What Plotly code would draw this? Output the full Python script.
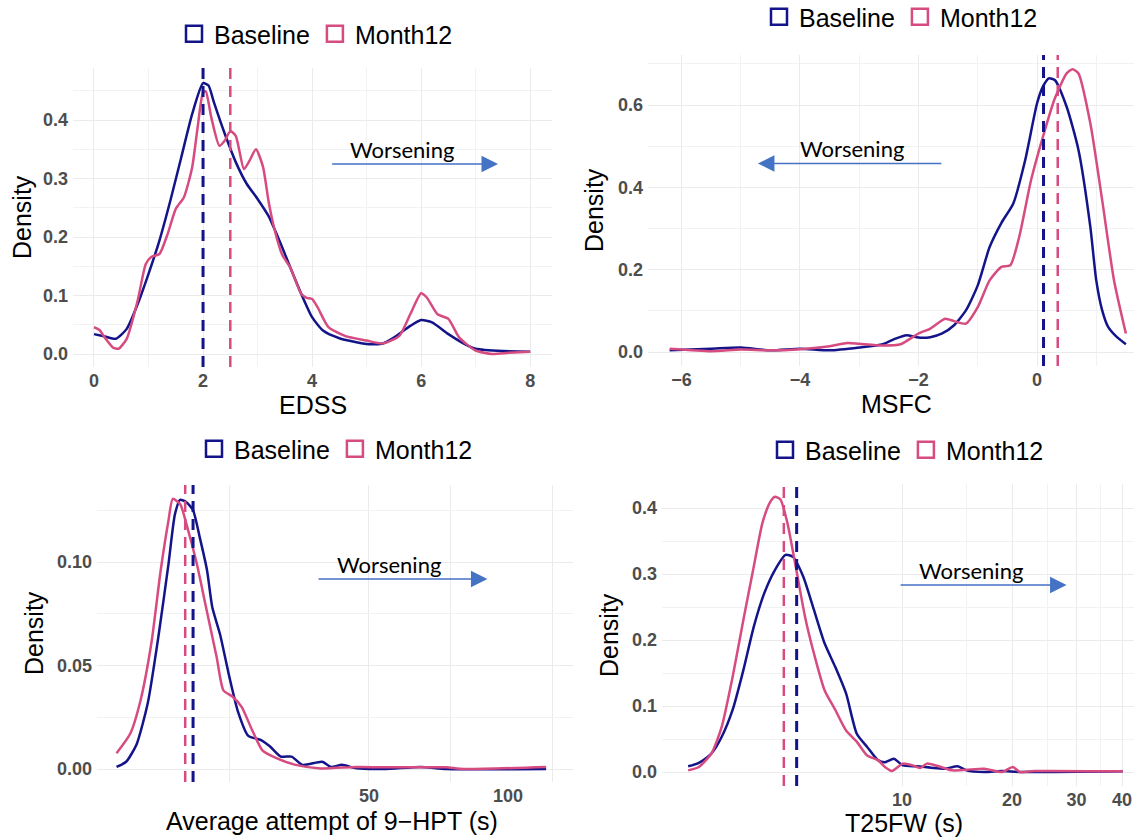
import numpy as np
import plotly.graph_objects as go

W, H = 1134, 838
NAVY = "#14148A"
PINK = "#D64B80"
ARROW = "#4472C4"
GRID = "#EBEBEB"
GRID_MINOR = "#F2F2F2"
FONT = "Liberation Sans, Arial, sans-serif"

series_names = ["Baseline", "Month12"]

# ---------------- EDSS ----------------
edss_base_x = [0, 0.2, 0.4, 0.6, 0.8, 1.0, 1.2, 1.4, 1.6, 1.8, 2.0, 2.1, 2.2, 2.4, 2.6, 2.8, 3.0, 3.2,
               3.4, 3.6, 3.8, 4.0, 4.2, 4.5, 5.0, 5.3, 5.5, 5.8, 6.0, 6.2, 6.5, 6.8, 7.0, 7.5, 8.0]
edss_base_y = [0.034, 0.030, 0.026, 0.043, 0.085, 0.137, 0.194, 0.262, 0.336, 0.410, 0.463, 0.459, 0.430,
               0.376, 0.328, 0.291, 0.265, 0.236, 0.194, 0.148, 0.103, 0.063, 0.040, 0.027, 0.017, 0.018,
               0.028, 0.048, 0.058, 0.054, 0.034, 0.017, 0.009, 0.005, 0.004]
edss_m12_x = [0, 0.1, 0.2, 0.35, 0.45, 0.6, 0.8, 0.95, 1.05, 1.2, 1.35, 1.5, 1.65, 1.8, 1.9, 2.0, 2.05, 2.15,
              2.3, 2.4, 2.5, 2.6, 2.75, 2.85, 2.97, 3.1, 3.2, 3.3, 3.45, 3.6, 3.8, 3.9, 4.0, 4.1, 4.3, 4.6,
              5.0, 5.3, 5.6, 5.8, 6.0, 6.1, 6.3, 6.5, 6.7, 7.0, 7.3, 7.6, 8.0]
edss_m12_y = [0.046, 0.041, 0.028, 0.011, 0.009, 0.026, 0.091, 0.154, 0.166, 0.171, 0.205, 0.248, 0.268,
              0.319, 0.387, 0.447, 0.449, 0.405, 0.356, 0.365, 0.381, 0.373, 0.316, 0.330, 0.350, 0.320,
              0.262, 0.217, 0.170, 0.148, 0.103, 0.096, 0.094, 0.080, 0.046, 0.031, 0.023, 0.018, 0.031,
              0.068, 0.104, 0.097, 0.068, 0.060, 0.028, 0.006, 0.000, 0.002, 0.004]
edss_medians = [2.0, 2.5]

# ---------------- MSFC ----------------
msfc_base_x = [-6.2, -5.5, -5.0, -4.5, -4.0, -3.5, -3.0, -2.6, -2.4, -2.2, -2.0, -1.8, -1.6, -1.4, -1.2,
               -1.0, -0.8, -0.6, -0.4, -0.2, 0.0, 0.1, 0.2, 0.3, 0.5, 0.7, 0.9, 1.0, 1.1, 1.2, 1.35, 1.5]
msfc_base_y = [0.004, 0.008, 0.011, 0.004, 0.008, 0.004, 0.011, 0.019, 0.032, 0.041, 0.035, 0.036, 0.045,
               0.065, 0.101, 0.162, 0.255, 0.314, 0.361, 0.466, 0.604, 0.645, 0.665, 0.661, 0.596, 0.491,
               0.304, 0.174, 0.101, 0.061, 0.036, 0.019]
msfc_m12_x = [-6.2, -5.5, -5.0, -4.5, -4.0, -3.5, -3.2, -3.0, -2.6, -2.3, -2.0, -1.8, -1.55, -1.4, -1.2,
              -1.0, -0.8, -0.6, -0.45, -0.3, -0.1, 0.1, 0.3, 0.5, 0.6, 0.7, 0.9, 1.1, 1.3, 1.5]
msfc_m12_y = [0.008, 0.002, 0.006, 0.004, 0.007, 0.014, 0.022, 0.020, 0.016, 0.019, 0.045, 0.057, 0.081,
              0.075, 0.069, 0.109, 0.174, 0.207, 0.211, 0.280, 0.418, 0.523, 0.616, 0.677, 0.687, 0.677,
              0.556, 0.369, 0.174, 0.045]
msfc_medians = [0.11, 0.35]

# ---------------- 9-HPT ----------------
hpt_base_x = [14.2, 14.9, 15.7, 16.6, 17.5, 18.4, 19.0, 19.5, 20.1, 20.8, 21.5, 22.3, 22.9, 23.8, 24.9,
              26.0, 27.4, 29.2, 30.5, 32.2, 34.0, 35.9, 39.6, 41.4, 43.7, 47.0, 54.2, 64.8, 73.5, 121]
hpt_base_y = [0.001, 0.0035, 0.012, 0.032, 0.064, 0.099, 0.123, 0.130, 0.129, 0.125, 0.112, 0.096, 0.078,
              0.065, 0.045, 0.028, 0.016, 0.014, 0.011, 0.006, 0.006, 0.002, 0.0035, 0.001, 0.002, 0.0003,
              0.0, 0.001, 0.0, 0.0]
hpt_m12_x = [14.2, 15.2, 16.0, 16.9, 17.7, 18.4, 18.8, 19.5, 20.2, 21.2, 22.1, 23.4, 24.2, 25.3, 26.5,
             27.9, 29.4, 31.7, 34.7, 39.3, 47.0, 56.3, 67.2, 73.5, 80.3, 121]
hpt_m12_y = [0.0076, 0.017, 0.033, 0.061, 0.096, 0.120, 0.1305, 0.128, 0.117, 0.099, 0.080, 0.054, 0.038,
             0.035, 0.030, 0.019, 0.009, 0.005, 0.002, 0.0003, 0.001, 0.0008, 0.0008, 0.0008, 0.0, 0.001]
hpt_medians = [20.8, 20.0]

# ---------------- T25FW ----------------
t25_base_x = [2.60, 2.78, 3.01, 3.21, 3.44, 3.68, 3.93, 4.20, 4.49, 4.80, 5.03, 5.37, 5.74, 6.14, 6.57,
              7.03, 7.52, 8.03, 8.59, 8.98, 9.50, 10.05, 11.0, 12.0, 13.1, 14.2, 15.0, 16.8, 18.8, 21.0, 40.2]
t25_base_y = [0.0086, 0.0137, 0.028, 0.053, 0.094, 0.154, 0.220, 0.271, 0.306, 0.329, 0.326, 0.296, 0.246,
              0.195, 0.159, 0.119, 0.058, 0.038, 0.018, 0.0147, 0.020, 0.010, 0.0086, 0.0066, 0.005, 0.0086,
              0.0025, 0.0, 0.0015, 0.0, 0.001]
t25_m12_x = [2.60, 2.78, 3.01, 3.21, 3.44, 3.68, 3.93, 4.15, 4.35, 4.49, 4.65, 4.86, 5.14, 5.43, 5.74, 6.14,
             6.57, 7.03, 7.52, 8.03, 8.59, 8.98, 9.39, 10.05, 10.7, 11.2, 11.7, 12.6, 13.7, 15.0, 16.8, 18.8,
             20.1, 21.0, 23.0, 40.2]
t25_m12_y = [0.0025, 0.0076, 0.028, 0.068, 0.144, 0.230, 0.311, 0.377, 0.408, 0.417, 0.413, 0.377, 0.306,
             0.235, 0.180, 0.124, 0.094, 0.063, 0.046, 0.025, 0.018, 0.0076, 0.0015, 0.0127, 0.010, 0.006,
             0.0127, 0.0086, 0.0025, 0.0035, 0.005, 0.0, 0.0076, 0.0, 0.0015, 0.001]
t25_medians = [5.15, 4.75]


def pxx(p):
    return p / W


def pxy(p):
    return 1 - p / H


panels = [
    dict(xs=(edss_base_x, edss_m12_x), ys=(edss_base_y, edss_m12_y), med=edss_medians, log=False,
         dom_x=(73, 552), dom_y=(68, 367),
         xaxis=dict(range=[-0.385, 8.4], tick0=0, dtick=2, minor=dict(tick0=0, dtick=1, showgrid=True)),
         yaxis=dict(range=[-0.0222, 0.4889], tick0=0, dtick=0.1, tickformat=".1f",
                    minor=dict(tick0=0, dtick=0.05, showgrid=True)),
         title="EDSS", title_pos=(313, 405), dens_pos=(22, 217), legend_pos=(316, 34),
         arrow=(4.34, 7.41, 0.325), word=(5.65, 0.349)),
    dict(xs=(msfc_base_x, msfc_m12_x), ys=(msfc_base_y, msfc_m12_y), med=msfc_medians, log=False,
         dom_x=(648, 1134), dom_y=(55, 366),
         xaxis=dict(range=[-6.565, 1.637], tick0=0, dtick=2, minor=dict(tick0=0, dtick=1, showgrid=True)),
         yaxis=dict(range=[-0.034, 0.7218], tick0=0, dtick=0.2, tickformat=".1f",
                    minor=dict(tick0=0, dtick=0.1, showgrid=True)),
         title="MSFC", title_pos=(896, 404), dens_pos=(594, 210), legend_pos=(901, 17),
         arrow=(-1.59, -4.71, 0.458), word=(-3.12, 0.495)),
    dict(xs=(hpt_base_x, hpt_m12_x), ys=(hpt_base_y, hpt_m12_y), med=hpt_medians, log=True,
         dom_x=(97, 573), dom_y=(485, 782),
         xaxis=dict(type="log", range=[1.110, 2.141], tickmode="array", tickvals=[50, 100],
                    ticktext=["50", "100"], showgrid=False,
                    minor=dict(tickmode="array", tickvals=[25, 50, 75, 125], showgrid=True, gridcolor=GRID)),
         yaxis=dict(range=[-0.00628, 0.1372], tick0=0, dtick=0.05, tickformat=".2f",
                    minor=dict(tick0=0, dtick=0.025, showgrid=True)),
         title="Average attempt of 9\u2212HPT (s)", title_pos=(332, 821), dens_pos=(34, 633),
         legend_pos=(336, 449), arrow=(38.6, 90.3, 0.0918), word=(55.4, 0.0989)),
    dict(xs=(t25_base_x, t25_m12_x), ys=(t25_base_y, t25_m12_y), med=t25_medians, log=True,
         dom_x=(662, 1134), dom_y=(484, 786),
         xaxis=dict(type="log", range=[0.3434, 1.6347], tickmode="array", tickvals=[10, 20, 30, 40],
                    ticktext=["10", "20", "30", "40"],
                    minor=dict(tickmode="array", tickvals=[15, 25, 35], showgrid=True)),
         yaxis=dict(range=[-0.0212, 0.4364], tick0=0, dtick=0.1, tickformat=".1f",
                    minor=dict(tick0=0, dtick=0.05, showgrid=True)),
         title="T25FW (s)", title_pos=(904, 823), dens_pos=(609, 635), legend_pos=(907, 450),
         arrow=(9.82, 28.2, 0.2835), word=(15.4, 0.306)),
]

colors = [NAVY, PINK]
med_widths = [3, 2.5]

fig = go.Figure()
layout = dict(
    width=W, height=H, autosize=False,
    margin=dict(l=0, r=0, t=0, b=0, pad=0, autoexpand=False),
    paper_bgcolor="white", plot_bgcolor="white",
    showlegend=True,
)
annotations = []
shapes = []

for i, p in enumerate(panels, start=1):
    sfx = "" if i == 1 else str(i)
    xa, ya = "x" + sfx, "y" + sfx
    lg = "legend" + sfx

    for k in range(2):
        fig.add_trace(go.Scatter(
            x=p["xs"][k], y=p["ys"][k], mode="lines", xaxis=xa, yaxis=ya,
            line=dict(color=colors[k], width=2.5, shape="spline", smoothing=0.6),
            showlegend=False, hoverinfo="skip"))
    for k in range(2):
        fig.add_trace(go.Scatter(
            x=[None], y=[None], mode="markers", xaxis=xa, yaxis=ya, name=series_names[k],
            marker=dict(symbol="square-open", size=16, color=colors[k], line=dict(width=2.5, color=colors[k])),
            legend=lg, showlegend=True))

    # median lines
    for k in range(2):
        shapes.append(dict(type="line", xref=xa, yref=ya + " domain", x0=p["med"][k], x1=p["med"][k],
                           y0=0, y1=1, line=dict(color=colors[k], width=med_widths[k], dash="11px,7px"),
                           layer="above"))

    tickfont = dict(family=FONT, size=18, color="#4D4D4D", weight="bold")
    xa_cfg = dict(domain=[pxx(p["dom_x"][0]), pxx(p["dom_x"][1])], anchor=ya, showline=False,
                  zeroline=False, ticks="", showgrid=True, gridcolor=GRID, gridwidth=1,
                  tickfont=tickfont, ticklabelstandoff=1, fixedrange=True)
    xa_cfg.update(p["xaxis"])
    minor = dict(gridcolor=GRID_MINOR, gridwidth=1, ticks="")
    minor.update(xa_cfg.get("minor", {}))
    xa_cfg["minor"] = minor
    ya_cfg = dict(domain=[pxy(p["dom_y"][1]), pxy(p["dom_y"][0])], anchor=xa, showline=False,
                  zeroline=False, ticks="", showgrid=True, gridcolor=GRID, gridwidth=1,
                  tickfont=tickfont, ticklabelstandoff=4, fixedrange=True)
    ya_cfg.update(p["yaxis"])
    yminor = dict(gridcolor=GRID_MINOR, gridwidth=1, ticks="")
    yminor.update(ya_cfg.get("minor", {}))
    ya_cfg["minor"] = yminor
    layout["xaxis" + sfx] = xa_cfg
    layout["yaxis" + sfx] = ya_cfg

    layout[lg] = dict(x=pxx(p["legend_pos"][0]), y=pxy(p["legend_pos"][1]), xanchor="center",
                      yanchor="middle", orientation="h", bgcolor="rgba(0,0,0,0)",
                      font=dict(family=FONT, size=25, color="black"), itemclick=False,
                      itemdoubleclick=False)

    # axis titles
    annotations.append(dict(x=pxx(p["title_pos"][0]), y=pxy(p["title_pos"][1]), xref="paper", yref="paper",
                            text=p["title"], showarrow=False, xanchor="center", yanchor="middle",
                            font=dict(family=FONT, size=25, color="black")))
    annotations.append(dict(x=pxx(p["dens_pos"][0]), y=pxy(p["dens_pos"][1]), xref="paper", yref="paper",
                            text="Density", showarrow=False, textangle=-90, xanchor="center",
                            yanchor="middle", font=dict(family=FONT, size=25, color="black")))

    # worsening arrow
    tail, head, ay = p["arrow"]
    wx, wy = p["word"]
    if p["log"]:
        tail, head, wx = np.log10(tail), np.log10(head), np.log10(wx)
    annotations.append(dict(x=head, y=ay, ax=tail, ay=ay, xref=xa, yref=ya, axref=xa, ayref=ya,
                            text="", showarrow=True, arrowhead=2, arrowsize=2.2, arrowwidth=1.5,
                            arrowcolor=ARROW, standoff=0, startstandoff=0))
    annotations.append(dict(x=wx, y=wy, xref=xa, yref=ya, text="Worsening", showarrow=False,
                            xanchor="center", yanchor="middle",
                            font=dict(family="Lato, Open Sans, sans-serif", size=22, color="#000000")))

layout["annotations"] = annotations
layout["shapes"] = shapes
fig.update_layout(**layout)

fig.write_html("out.html", config={"displayModeBar": False, "staticPlot": True},
               post_script="document.body.style.margin='0';document.body.style.overflow='hidden';")
